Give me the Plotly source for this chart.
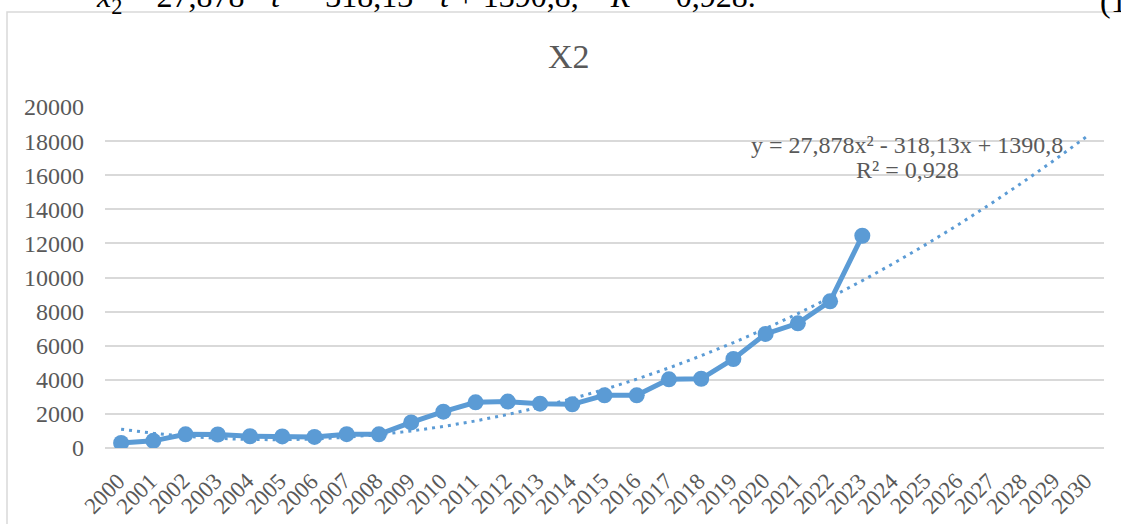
import plotly.graph_objects as go

# ---- data ----
years = list(range(2000, 2024))
x2_values = [300, 420, 800, 790, 690, 680, 650, 810, 800, 1500, 2130, 2680,
             2720, 2600, 2560, 3090, 3090, 4030, 4060, 5220, 6690, 7310, 8600, 12450]
axis_years = list(range(2000, 2031))
tick_labels = [str(y) for y in axis_years]
# polynomial trendline coefficients shown on the chart (a*t^2 + b*t + c, t = 1 for 2000)
trend_coefs = [27.878, -318.13, 1390.8]
trend_label_1 = "y = 27,878x² - 318,13x + 1390,8"
trend_label_2 = "R² = 0,928"
title_text = "X2"

t_vals = [y - 1999 for y in axis_years]
trend_values = [trend_coefs[0] * t * t + trend_coefs[1] * t + trend_coefs[2] for t in t_vals]

# ---- layout geometry (pixels) ----
W, H = 1121, 524
L, R, T, B = 105, 17, 107, 76
PW, PH = W - L - R, H - T - B


def px(xp):
    return (xp - L) / PW


def py(yp):
    return (H - B - yp) / PH


BLUE = "#5B9BD5"
GRAY = "#595959"
GRID = "#D9D9D9"
FONT = "Liberation Serif"

fig = go.Figure()
fig.add_trace(go.Scatter(
    x=axis_years, y=trend_values, mode="lines",
    line=dict(color=BLUE, width=3, dash="3px,5px"),
    hoverinfo="skip"))
fig.add_trace(go.Scatter(
    x=years, y=x2_values, mode="lines+markers",
    line=dict(color=BLUE, width=5),
    marker=dict(color=BLUE, size=16)))

annotations = [
    dict(text=title_text, x=px(569), y=py(57), xref="paper", yref="paper",
         showarrow=False, font=dict(family=FONT, size=34, color=GRAY),
         xanchor="center", yanchor="middle"),
    dict(text=trend_label_1, x=px(907), y=py(145), xref="paper", yref="paper",
         showarrow=False, font=dict(family=FONT, size=24, color=GRAY),
         xanchor="center", yanchor="middle"),
    dict(text=trend_label_2, x=px(907), y=py(170), xref="paper", yref="paper",
         showarrow=False, font=dict(family=FONT, size=24, color=GRAY),
         xanchor="center", yanchor="middle"),
    # document text above the chart, cut off by the page edge
    dict(text="<i>x</i><sub>2</sub> = 27,878 · <i>t</i><sup>2</sup> − 318,13 · <i>t</i> + 1390,8,    <i>R</i><sup>2</sup> = 0,928.",
         x=px(94), y=py(21), xref="paper", yref="paper", showarrow=False,
         font=dict(family=FONT, size=32, color="#000000"),
         xanchor="left", yanchor="bottom"),
    dict(text="(1", x=px(1098), y=py(21), xref="paper", yref="paper", showarrow=False,
         font=dict(family=FONT, size=32, color="#000000"),
         xanchor="left", yanchor="bottom"),
]

# rotated category labels under the axis
for yr, lab in zip(axis_years, tick_labels):
    annotations.append(dict(
        text=lab, x=yr, xref="x", y=py(494), yref="paper", xshift=-16,
        showarrow=False, textangle=-45, xanchor="center", yanchor="middle",
        font=dict(family=FONT, size=23, color=GRAY)))

shapes = [
    dict(type="rect", xref="paper", yref="paper",
         x0=px(7), x1=px(1140), y0=py(12), y1=py(540),
         line=dict(color=GRID, width=1.5), fillcolor="rgba(0,0,0,0)", layer="below"),
]

fig.update_layout(
    width=W, height=H,
    margin=dict(l=L, r=R, t=T, b=B, pad=0, autoexpand=False),
    paper_bgcolor="white", plot_bgcolor="white",
    showlegend=False,
    annotations=annotations,
    shapes=shapes,
    font=dict(family=FONT, color=GRAY),
    xaxis=dict(
        range=[1999.5, 2030.5], tickmode="array", tickvals=axis_years, ticktext=tick_labels,
        showticklabels=False,
        showgrid=False, zeroline=False, showline=False, ticks="", automargin=False,
    ),
    yaxis=dict(
        range=[0, 20000], dtick=2000, tickfont=dict(family=FONT, size=24, color=GRAY),
        showgrid=True, gridcolor=GRID, gridwidth=1.5, zeroline=True,
        zerolinecolor=GRID, zerolinewidth=1.5, showline=False, ticks="",
        ticklabelstandoff=20, tickformat="d", automargin=False,
    ),
)

fig.write_html("out.html", config={"displayModeBar": False},
               post_script="document.body.style.margin='0';")
